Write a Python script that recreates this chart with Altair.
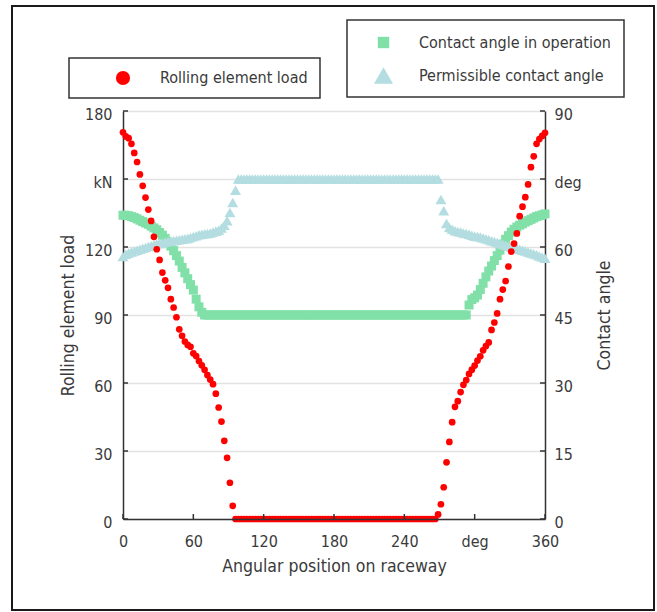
import altair as alt
import pandas as pd

# Angular position on raceway (deg)
angle = [
    0.0, 2.4, 4.8, 7.2, 9.6, 12.0, 14.4, 16.8, 19.2, 21.6,
    24.0, 26.4, 28.8, 31.2, 33.6, 36.0, 38.4, 40.8, 43.2, 45.6,
    48.0, 50.4, 52.8, 55.2, 57.6, 60.0, 62.4, 64.8, 67.2, 69.6,
    72.0, 74.4, 76.8, 79.2, 81.6, 84.0, 86.4, 88.8, 91.2, 93.6,
    96.0, 98.4, 100.8, 103.2, 105.6, 108.0, 110.4, 112.8, 115.2, 117.6,
    120.0, 122.4, 124.8, 127.2, 129.6, 132.0, 134.4, 136.8, 139.2, 141.6,
    144.0, 146.4, 148.8, 151.2, 153.6, 156.0, 158.4, 160.8, 163.2, 165.6,
    168.0, 170.4, 172.8, 175.2, 177.6, 180.0, 182.4, 184.8, 187.2, 189.6,
    192.0, 194.4, 196.8, 199.2, 201.6, 204.0, 206.4, 208.8, 211.2, 213.6,
    216.0, 218.4, 220.8, 223.2, 225.6, 228.0, 230.4, 232.8, 235.2, 237.6,
    240.0, 242.4, 244.8, 247.2, 249.6, 252.0, 254.4, 256.8, 259.2, 261.6,
    264.0, 266.4, 268.8, 271.2, 273.6, 276.0, 278.4, 280.8, 283.2, 285.6,
    288.0, 290.4, 292.8, 295.2, 297.6, 300.0, 302.4, 304.8, 307.2, 309.6,
    312.0, 314.4, 316.8, 319.2, 321.6, 324.0, 326.4, 328.8, 331.2, 333.6,
    336.0, 338.4, 340.8, 343.2, 345.6, 348.0, 350.4, 352.8, 355.2, 357.6,
    360.0,
]

# Rolling element load (kN)
load = [
    170.6, 168.8, 168.0, 165.5, 161.5, 157.5, 152.0, 147.0, 141.8, 136.5,
    131.5, 124.5, 119.0, 114.3, 108.7, 105.3, 102.0, 97.0, 93.3, 89.0,
    83.7, 80.8, 78.3, 76.8, 76.0, 73.1, 71.9, 69.7, 67.8, 65.8,
    63.5, 61.5, 59.5, 55.3, 49.2, 43.0, 34.5, 27.0, 16.0, 5.8,
    0.0, 0.0, 0.0, 0.0, 0.0, 0.0, 0.0, 0.0, 0.0, 0.0,
    0.0, 0.0, 0.0, 0.0, 0.0, 0.0, 0.0, 0.0, 0.0, 0.0,
    0.0, 0.0, 0.0, 0.0, 0.0, 0.0, 0.0, 0.0, 0.0, 0.0,
    0.0, 0.0, 0.0, 0.0, 0.0, 0.0, 0.0, 0.0, 0.0, 0.0,
    0.0, 0.0, 0.0, 0.0, 0.0, 0.0, 0.0, 0.0, 0.0, 0.0,
    0.0, 0.0, 0.0, 0.0, 0.0, 0.0, 0.0, 0.0, 0.0, 0.0,
    0.0, 0.0, 0.0, 0.0, 0.0, 0.0, 0.0, 0.0, 0.0, 0.0,
    0.0, 0.0, 2.0, 6.5, 14.0, 25.0, 34.0, 42.7, 49.5, 52.0,
    56.0, 59.2, 61.3, 64.0, 65.9, 67.7, 69.9, 71.8, 74.4, 76.3,
    77.9, 83.4, 86.7, 90.7, 97.0, 101.2, 105.0, 111.4, 118.0, 121.5,
    126.0, 133.6, 137.8, 142.0, 147.6, 155.2, 160.0, 165.5, 167.6, 169.0,
    170.4,
]

# Contact angle in operation (deg)
op_angle = [
    67.0, 67.0, 66.9, 66.7, 66.5, 66.2, 65.9, 65.6, 65.3, 65.0,
    64.6, 64.2, 63.8, 63.2, 62.6, 61.9, 61.1, 60.2, 59.2, 58.1,
    56.9, 55.5, 54.3, 53.0, 51.7, 50.5, 48.5, 46.8, 45.6, 45.0,
    45.0, 45.0, 45.0, 45.0, 45.0, 45.0, 45.0, 45.0, 45.0, 45.0,
    45.0, 45.0, 45.0, 45.0, 45.0, 45.0, 45.0, 45.0, 45.0, 45.0,
    45.0, 45.0, 45.0, 45.0, 45.0, 45.0, 45.0, 45.0, 45.0, 45.0,
    45.0, 45.0, 45.0, 45.0, 45.0, 45.0, 45.0, 45.0, 45.0, 45.0,
    45.0, 45.0, 45.0, 45.0, 45.0, 45.0, 45.0, 45.0, 45.0, 45.0,
    45.0, 45.0, 45.0, 45.0, 45.0, 45.0, 45.0, 45.0, 45.0, 45.0,
    45.0, 45.0, 45.0, 45.0, 45.0, 45.0, 45.0, 45.0, 45.0, 45.0,
    45.0, 45.0, 45.0, 45.0, 45.0, 45.0, 45.0, 45.0, 45.0, 45.0,
    45.0, 45.0, 45.0, 45.0, 45.0, 45.0, 45.0, 45.0, 45.0, 45.0,
    45.0, 45.0, 45.0, 47.2, 48.4, 48.8, 49.4, 50.6, 52.0, 53.4,
    54.7, 55.8, 57.0, 58.1, 59.3, 60.6, 61.7, 62.5, 63.3, 63.9,
    64.4, 64.8, 65.1, 65.5, 65.8, 66.1, 66.4, 66.7, 66.9, 67.1,
    67.3,
]

# Permissible contact angle (deg)
perm_angle = [
    57.9, 58.4, 58.7, 58.9, 59.1, 59.3, 59.5, 59.7, 59.9, 60.1,
    60.3, 60.5, 60.7, 60.8, 60.9, 61.1, 61.2, 61.3, 61.4, 61.5,
    61.6, 61.7, 61.8, 61.9, 62.1, 62.3, 62.5, 62.7, 62.8, 62.9,
    63.0, 63.1, 63.3, 63.5, 63.7, 64.2, 64.8, 65.8, 67.6, 69.8,
    72.5, 75.0, 75.0, 75.0, 75.0, 75.0, 75.0, 75.0, 75.0, 75.0,
    75.0, 75.0, 75.0, 75.0, 75.0, 75.0, 75.0, 75.0, 75.0, 75.0,
    75.0, 75.0, 75.0, 75.0, 75.0, 75.0, 75.0, 75.0, 75.0, 75.0,
    75.0, 75.0, 75.0, 75.0, 75.0, 75.0, 75.0, 75.0, 75.0, 75.0,
    75.0, 75.0, 75.0, 75.0, 75.0, 75.0, 75.0, 75.0, 75.0, 75.0,
    75.0, 75.0, 75.0, 75.0, 75.0, 75.0, 75.0, 75.0, 75.0, 75.0,
    75.0, 75.0, 75.0, 75.0, 75.0, 75.0, 75.0, 75.0, 75.0, 75.0,
    75.0, 75.0, 75.0, 70.5, 68.0, 65.2, 64.3, 63.9, 63.6, 63.4,
    63.3, 63.1, 63.0, 62.8, 62.6, 62.4, 62.3, 62.2, 62.0, 61.8,
    61.6, 61.4, 61.2, 61.0, 60.8, 60.6, 60.4, 60.2, 60.0, 59.9,
    59.7, 59.5, 59.3, 59.1, 58.9, 58.7, 58.5, 58.3, 58.0, 57.8,
    57.5,
]

# Tick values of the three axes
pos_tick_values = [0, 60, 120, 180, 240, 300, 360]
load_tick_values = [0, 30, 60, 90, 120, 150, 180]
deg_tick_values = [0, 15, 30, 45, 60, 75, 90]

LOAD_NAME = "Rolling element load"
OP_NAME = "Contact angle in operation"
PERM_NAME = "Permissible contact angle"

FONT = "DejaVu Sans Condensed, DejaVu Sans"
TXT = "#3a3a3a"
AX = "#333333"
RED = "#ff0000"
GREEN = "#80e0a8"
TEAL = "#b3dde0"
SQUARE = "M-0.6,-0.6H0.6V0.6H-0.6Z"
W, H = 422, 408

df = pd.DataFrame({"angle": angle, "load": load, "op": op_angle, "perm": perm_angle})
pos_ticks = pd.DataFrame({"v": pos_tick_values})
load_ticks = pd.DataFrame({"v": load_tick_values})
deg_ticks = pd.DataFrame({"v": deg_tick_values})

x_scale = alt.Scale(domain=[0, 360], nice=False)
load_scale = alt.Scale(domain=[0, 180], nice=False)
deg_scale = alt.Scale(domain=[0, 90], nice=False)

x_axis = alt.Axis(
    values=pos_tick_values,
    labelExpr="datum.value == 300 ? 'deg' : datum.label",
    title="Angular position on raceway",
    grid=False, ticks=False, tickSize=0, labelFlush=False,
    labelPadding=22, labelBaseline="middle",
    titleX=W / 2, titleY=47, titleBaseline="middle",
    domainColor=AX, domainWidth=1.5, zindex=1,
)
left_axis = alt.Axis(
    orient="left",
    values=load_tick_values,
    labelExpr="datum.value == 150 ? 'kN' : datum.label",
    title=LOAD_NAME,
    grid=True, gridColor="#e2e2e2", gridWidth=1.5,
    ticks=False, tickSize=0, labelFlush=False,
    labelPadding=11, labelBaseline="middle", labelOffset=3,
    titleX=-55, titleY=H / 2, titleAngle=270, titleAlign="center", titleBaseline="middle",
    domainColor=AX, domainWidth=1.5,
)
right_axis = alt.Axis(
    orient="right",
    values=deg_tick_values,
    labelExpr="datum.value == 75 ? 'deg' : datum.label",
    title="Contact angle",
    grid=False, ticks=False, tickSize=0, labelFlush=False,
    labelPadding=9, labelBaseline="middle", labelOffset=3,
    titleX=59, titleY=H / 2, titleAngle=270, titleAlign="center", titleBaseline="middle",
    domainColor=AX, domainWidth=1.5,
)

load_legend = alt.Legend(
    title=None, orient="none", legendX=-54, legendY=-53,
    padding=12, symbolOffset=34, labelOffset=29, symbolSize=201,
    symbolType="circle", strokeColor=AX, labelLimit=400,
)
angle_legend = alt.Legend(
    title=None, orient="none", legendX=224, legendY=-91,
    padding=13, symbolOffset=14, labelOffset=26, rowPadding=15, symbolSize=361,
    strokeColor=AX, labelLimit=400, symbolStrokeWidth=0,
)

angle_color = alt.Color(
    "series:N",
    scale=alt.Scale(domain=[OP_NAME, PERM_NAME], range=[GREEN, TEAL]),
    legend=angle_legend,
)
angle_shape = alt.Shape(
    "series:N",
    scale=alt.Scale(domain=[OP_NAME, PERM_NAME], range=[SQUARE, "triangle-up"]),
    legend=angle_legend,
)

op_layer = (
    alt.Chart(df)
    .transform_calculate(series=f"'{OP_NAME}'")
    .mark_point(filled=True, opacity=1, size=225, strokeWidth=0)
    .encode(
        x=alt.X("angle:Q", scale=x_scale, axis=x_axis),
        y=alt.Y("op:Q", scale=deg_scale, axis=right_axis),
        color=angle_color,
        shape=angle_shape,
    )
)
perm_layer = (
    alt.Chart(df)
    .transform_calculate(series=f"'{PERM_NAME}'")
    .mark_point(filled=True, opacity=1, size=121, strokeWidth=0)
    .encode(
        x=alt.X("angle:Q", scale=x_scale, axis=x_axis),
        y=alt.Y("perm:Q", scale=deg_scale, axis=right_axis),
        color=angle_color,
        shape=angle_shape,
    )
)
right_ticks = (
    alt.Chart(deg_ticks)
    .mark_rule(color=AX, strokeWidth=1.5)
    .encode(
        y=alt.Y("v:Q", scale=deg_scale, axis=right_axis),
        x=alt.value(W - 5), x2=alt.value(W),
    )
)

load_layer = (
    alt.Chart(df)
    .transform_calculate(series=f"'{LOAD_NAME}'")
    .mark_circle(size=45, opacity=1)
    .encode(
        x=alt.X("angle:Q", scale=x_scale, axis=x_axis),
        y=alt.Y("load:Q", scale=load_scale, axis=left_axis),
        fill=alt.Fill("series:N", scale=alt.Scale(domain=[LOAD_NAME], range=[RED]), legend=load_legend),
    )
)
left_ticks = (
    alt.Chart(load_ticks)
    .mark_rule(color=AX, strokeWidth=1.5)
    .encode(
        y=alt.Y("v:Q", scale=load_scale, axis=left_axis),
        x=alt.value(0), x2=alt.value(5),
    )
)
bottom_ticks = (
    alt.Chart(pos_ticks)
    .mark_rule(color=AX, strokeWidth=1.5)
    .encode(
        x=alt.X("v:Q", scale=x_scale, axis=x_axis),
        y=alt.value(H), y2=alt.value(H - 5),
    )
)

# outer border around the whole figure
frame = (
    alt.Chart(pd.DataFrame({"k": [0]}))
    .mark_rect(fill="white", fillOpacity=0, stroke="#1a1a1a", strokeWidth=2)
    .encode(x=alt.value(-111), x2=alt.value(531), y=alt.value(-105), y2=alt.value(499))
)

angle_group = alt.layer(op_layer, perm_layer, right_ticks)
load_group = alt.layer(load_layer, left_ticks, bottom_ticks)

chart = (
    alt.layer(angle_group, load_group, frame)
    .resolve_scale(y="independent")
    .properties(
        width=W, height=H,
        padding={"left": 123, "top": 111, "right": 112, "bottom": 93},
        autosize=alt.AutoSizeParams(type="none"),
        background="white",
    )
    .configure_view(strokeWidth=0)
    .configure_axis(
        labelFont=FONT, titleFont=FONT, labelFontSize=16, titleFontSize=17.5,
        labelColor=TXT, titleColor=TXT, titleFontWeight="normal",
    )
    .configure_legend(labelFont=FONT, labelFontSize=16, labelColor=TXT, strokeWidth=1.5)
)

chart.save("out.html", embed_options={"renderer": "svg", "actions": False})
